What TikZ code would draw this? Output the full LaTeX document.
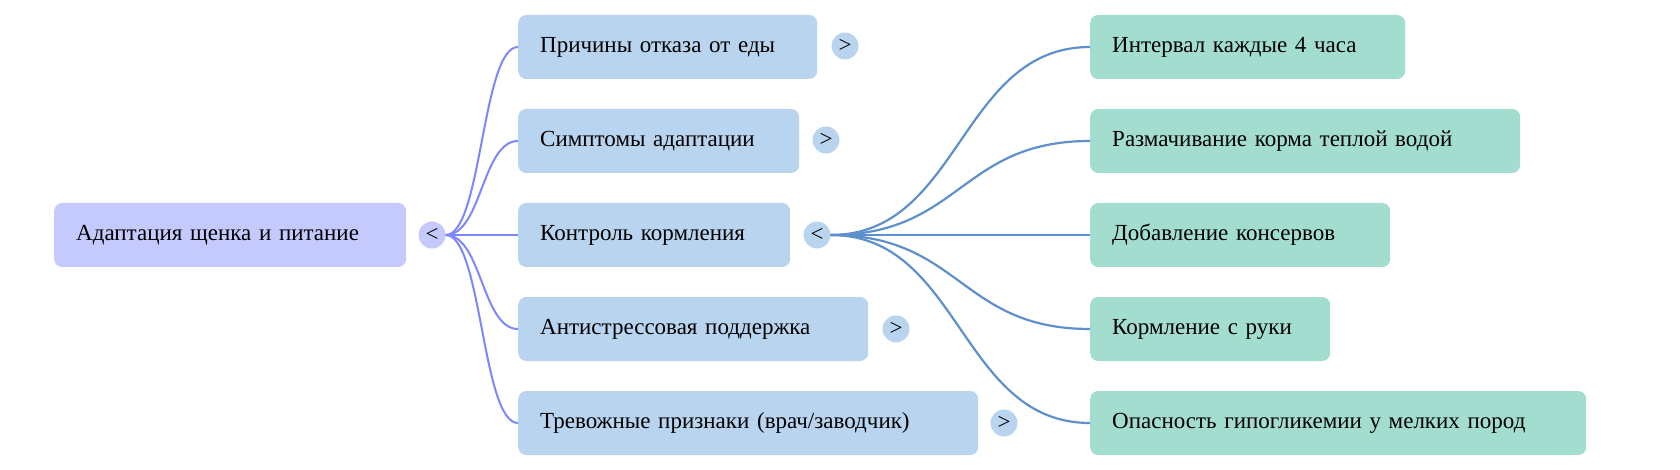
\documentclass[tikz,border=0pt]{standalone}
\usepackage{fontspec}
\setmainfont{Liberation Serif}
\definecolor{rootfill}{HTML}{C4CAFD}
\definecolor{topicfill}{HTML}{B9D4EF}
\definecolor{leaffill}{HTML}{A2DDD0}
\definecolor{rootline}{HTML}{7E87FA}
\definecolor{topicline}{HTML}{5E90CC}
\tikzset{
box/.style={rounded corners=8pt, minimum height=64pt, inner xsep=22pt,
    anchor=west, text width=#1, font=\fontsize{23}{27}\selectfont},
rootbox/.style={box=#1, fill=rootfill},
topic/.style={box=#1, fill=topicfill},
leaf/.style={box=#1, fill=leaffill},
toggle/.style={circle, inner sep=0pt, minimum size=27pt,
    font=\fontsize{23}{23}\selectfont},
rootedge/.style={rootline, line width=2pt},
leafedge/.style={topicline, line width=2.2pt}
}

\begin{document}
\begin{tikzpicture}[x=1pt, y=-1pt]
	\useasboundingbox (0,0) rectangle (1680,470);
	\node[rootbox=308pt] (root) at (54,235) {Адаптация щенка и питание};
	\node[toggle, fill=rootfill] (rt) at (432,235) {<};
	% first level
	\node[topic=255pt] (t1) at (518,47)  {Причины отказа от еды};
	\node[topic=237pt] (t2) at (518,141) {Симптомы адаптации};
	\node[topic=228pt] (t3) at (518,235) {Контроль кормления};
	\node[topic=306pt] (t4) at (518,329) {Антистрессовая поддержка};
	\node[topic=416pt] (t5) at (518,423) {Тревожные признаки (врач/заводчик)};
	\node[toggle, fill=topicfill] (g1) at (845,46)  {>};
	\node[toggle, fill=topicfill] (g2) at (826,140) {>};
	\node[toggle, fill=topicfill] (g3) at (817,235) {<};
	\node[toggle, fill=topicfill] (g4) at (896,329) {>};
	\node[toggle, fill=topicfill] (g5) at (1004,423) {>};
	% second level
	\node[leaf=271pt] (l1) at (1090,47)  {Интервал каждые 4 часа};
	\node[leaf=386pt] (l2) at (1090,141) {Размачивание корма теплой водой};
	\node[leaf=256pt] (l3) at (1090,235) {Добавление консервов};
	\node[leaf=196pt] (l4) at (1090,329) {Кормление с руки};
	\node[leaf=452pt] (l5) at (1090,423) {Опасность гипогликемии у мелких пород};
	\foreach \n in {1,...,5}{
		\draw[rootedge] (rt.east) .. controls +(36,0) and +(-36,0) .. (t\n.west);
		\draw[leafedge] (g3.east) .. controls +(130,0) and +(-130,0) .. (l\n.west);
	}
\end{tikzpicture}
\end{document}
